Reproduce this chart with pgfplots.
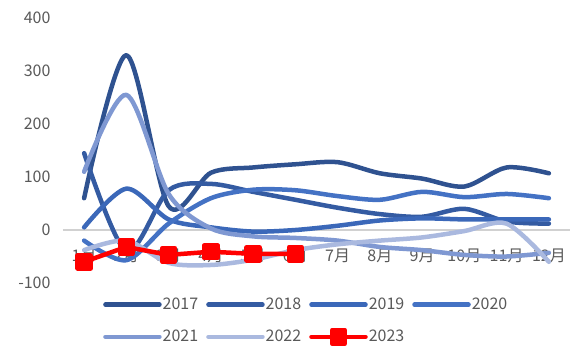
\documentclass[border=0pt]{standalone}
\usepackage{pgfplots}
\pgfplotsset{compat=1.18}
\usepackage{fontspec}
\setmainfont{Noto Sans CJK SC}
\definecolor{c17}{HTML}{2F5290}
\definecolor{c18}{HTML}{345BA2}
\definecolor{c19}{HTML}{3B68B9}
\definecolor{c20}{HTML}{4472C4}
\definecolor{c21}{HTML}{7F98D2}
\definecolor{c22}{HTML}{AAB9DF}
\definecolor{tickgray}{HTML}{595959}
\begin{document}
\begin{tikzpicture}
\path[use as bounding box] (0,0) rectangle (570pt,346pt);
\begin{axis}[
  at={(63pt,63pt)}, anchor=south west,
  scale only axis, width=507pt, height=265pt,
  xmin=0.5, xmax=12.5, ymin=-100, ymax=400,
  xtick={1,2,3,4,5,6,7,8,9,10,11,12},
  xticklabels={1月,2月,3月,4月,5月,6月,7月,8月,9月,10月,11月,12月},
  ytick={-100,0,100,200,300,400},
  axis line style={draw=none},
  major tick length=0pt,
  tick label style={font=\fontsize{16}{19}\selectfont, text=tickgray},
  /pgf/number format/assume math mode=true,
  yticklabel style={xshift=-9pt},
  xticklabel style={yshift=38pt},
  extra y ticks={0}, extra y tick labels={},
  extra y tick style={grid=major, major grid style={draw=black!18, line width=1.2pt}},
  clip=false,
  legend style={at={(0.073,-0.045)}, anchor=north west, draw=none, fill=none,
    font=\fontsize{16}{19}\selectfont, text=tickgray,
    /tikz/every even column/.append style={column sep=7pt},
    row sep=17pt, nodes={inner sep=1pt}},
  legend columns=4,
  legend cell align=left,
  legend image code/.code={\draw[mark repeat=2, mark phase=2, #1, line cap=round] plot coordinates {(0pt,0pt) (27pt,0pt) (54pt,0pt)};},
  every axis plot/.append style={line width=4.5pt, line cap=round, line join=round},
]
\addplot[c17, smooth] coordinates {(1,60) (2,330) (3,45) (4,108) (5,118) (6,124) (7,128) (8,107) (9,97) (10,82) (11,118) (12,107)};
\addlegendentry{2017}
\addplot[c18, smooth] coordinates {(1,145) (2,-40) (3,75) (4,87) (5,72) (6,57) (7,42) (8,30) (9,25) (10,40) (11,16) (12,12)};
\addlegendentry{2018}
\addplot[c19, smooth] coordinates {(1,5) (2,78) (3,20) (4,5) (5,-3) (6,0) (7,8) (8,18) (9,22) (10,20) (11,20) (12,20)};
\addlegendentry{2019}
\addplot[c20, smooth] coordinates {(1,-20) (2,-57) (3,12) (4,60) (5,76) (6,75) (7,64) (8,57) (9,72) (10,62) (11,68) (12,60)};
\addlegendentry{2020}
\addplot[c21, smooth] coordinates {(1,110) (2,255) (3,68) (4,3) (5,-12) (6,-15) (7,-20) (8,-32) (9,-38) (10,-47) (11,-50) (12,-43)};
\addlegendentry{2021}
\addplot[c22, smooth] coordinates {(1,-38) (2,-20) (3,-62) (4,-66) (5,-56) (6,-38) (7,-27) (8,-20) (9,-14) (10,-2) (11,12) (12,-60)};
\addlegendentry{2022}
\addplot[red, mark=square*, mark size=6.5pt, mark options={solid}] coordinates {(1,-60) (2,-32) (3,-47) (4,-41) (5,-45) (6,-45)};
\addlegendentry{2023}
\end{axis}
\end{tikzpicture}
\end{document}
